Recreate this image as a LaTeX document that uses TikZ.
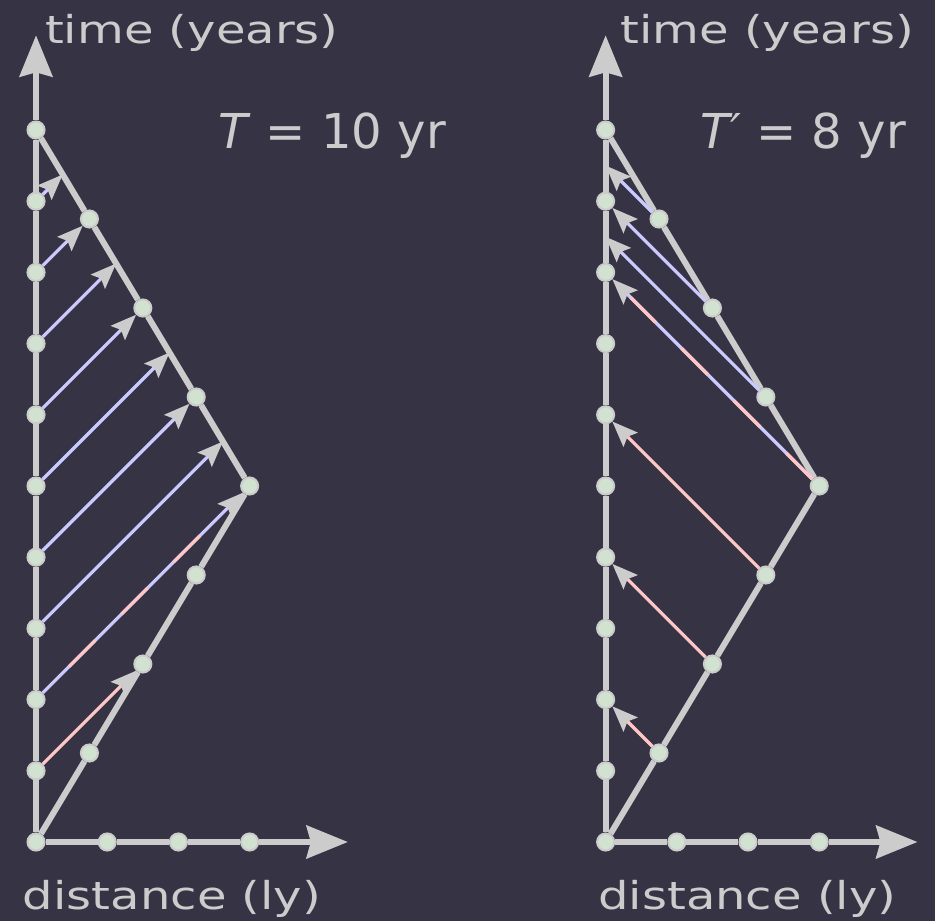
\documentclass[tikz,border=0pt]{standalone}
\usepackage{fontspec}
\setmainfont{DejaVu Sans}
\usetikzlibrary{arrows.meta}
\definecolor{bgdark}{RGB}{54,51,69}
\definecolor{linegray}{RGB}{204,204,204}
\definecolor{dotgreen}{RGB}{210,226,208}
\definecolor{sigred}{RGB}{255,198,198}
\definecolor{sigblue}{RGB}{202,202,255}
\tikzset{axisline/.style={linegray, line width=2.4pt, -{Stealth[length=0.58cm, width=0.46cm, inset=0.06cm]}}}
\tikzset{worldline/.style={linegray, line width=2.4pt}}
\tikzset{event/.style={circle, fill=dotgreen, draw=linegray, line width=0.8pt, inner sep=0pt, minimum size=0.24cm}}
\tikzset{ray/.style={line width=1.3pt, -{Stealth[length=0.36cm, width=0.28cm, inset=0.06cm, color=linegray]}}}
\tikzset{redray/.style={ray, sigred}}
\tikzset{blueray/.style={ray, sigblue}}
\tikzset{redstripes/.style={sigred, line width=1.3pt, dash pattern=on 0.52cm off 0.52cm, shorten >=0.36cm}}
\tikzset{textlabel/.style={linegray, inner sep=0pt, anchor=base west, font=\fontsize{19.2}{23}\selectfont}}
\tikzset{axislabel/.style={textlabel, yscale=0.8}}

\begin{document}
\begin{tikzpicture}
\fill [bgdark] (-0.506,-1.11) rectangle (12.626,11.826);
\useasboundingbox (-0.506,-1.11) rectangle (12.626,11.826);

\foreach \side/\shift in {L/0,R/8} {
  \begin{scope}[xshift=\shift cm]
    \foreach \yr in {0,...,10}
      \node [event] (\side e\yr) at (0,\yr) {};
    \foreach \ly in {1,2,3}
      \node [event] (\side d\ly) at (\ly,0) {};
    \foreach \nn/\xx/\yy in {1/0.75/1.25,2/1.5/2.5,3/2.25/3.75,4/3/5,5/2.25/6.25,6/1.5/7.5,7/0.75/8.75}
      \node [event] (\side s\nn) at (\xx,\yy) {};
    \coordinate (\side top) at (0,11.33);
    \coordinate (\side end) at (4.38,0);
    \draw [axisline] (\side e0) -- (\side e1) -- (\side e2) -- (\side e3) -- (\side e4) -- (\side e5)
      -- (\side e6) -- (\side e7) -- (\side e8) -- (\side e9) -- (\side e10) -- (\side top);
    \draw [axisline] (\side e0) -- (\side d1) -- (\side d2) -- (\side d3) -- (\side end);
    \draw [worldline] (\side e0) -- (\side s1) -- (\side s2) -- (\side s3) -- (\side s4)
      -- (\side s5) -- (\side s6) -- (\side s7) -- (\side e10);
  \end{scope}
}

\node [axislabel] (Ltime) at (0.12,11.22) {time (years)};
\node [axislabel] (Rtime) at (8.2,11.22) {time (years)};
\node [axislabel] (Ldist) at (-0.19,-0.955) {distance (ly)};
\node [axislabel] (Rdist) at (7.89,-0.955) {distance (ly)};
\node [textlabel] (Lperiod) at (2.55,9.747) {\textit{T} = 10 yr};
\node [textlabel] (Rperiod) at (9.33,9.747) {\textit{T′} = 8 yr};

\coordinate (Lr3) at (2.625,5.625);
\coordinate (Lr5) at (1.875,6.875);
\coordinate (Lr7) at (1.125,8.125);
\coordinate (Lr9) at (0.375,9.375);
\draw [redray] (Le1) -- (Ls2);
\draw [blueray] (Le2) -- (Ls4);
\draw [redstripes, dash phase=0.52cm] (Le2) -- (Ls4);
\foreach \yr/\hit in {3/Lr3,4/Ls5,5/Lr5,6/Ls6,7/Lr7,8/Ls7,9/Lr9}
  \draw [blueray] (Le\yr) -- (\hit);

\coordinate (Ra5) at (8,8.5);
\coordinate (Ra7) at (8,9.5);
\draw [redray] (Rs1) -- (Re2);
\draw [redray] (Rs2) -- (Re4);
\draw [redray] (Rs3) -- (Re6);
\draw [blueray] (Rs4) -- (Re8);
\draw [redstripes] (Rs4) -- (Re8);
\draw [blueray] (Rs5) -- (Ra5);
\draw [blueray] (Rs6) -- (Re9);
\draw [blueray] (Rs7) -- (Ra7);
\end{tikzpicture}
\end{document}
